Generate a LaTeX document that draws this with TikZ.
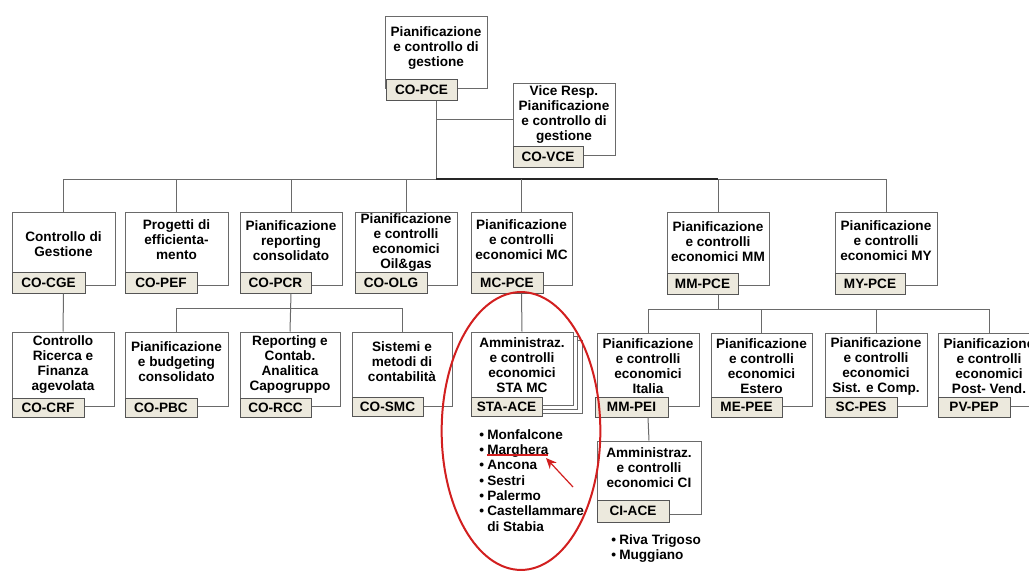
\documentclass[tikz,border=0pt]{standalone}
\usepackage{fontspec}
\setmainfont{Liberation Sans}
\usetikzlibrary{fit,arrows.meta}

\definecolor{linegray}{HTML}{6A6A6A}
\definecolor{tabfill}{HTML}{ECE9DD}
\definecolor{tabline}{HTML}{555555}
\definecolor{markred}{HTML}{D21F1F}

\tikzset{
  unitbox/.style={draw=linegray, fill=white, line width=0.75pt, inner sep=0pt},
  unittab/.style={draw=tabline, fill=tabfill, line width=0.75pt, inner sep=0pt},
  tabcode/.style={inner sep=0pt, font=\bfseries\fontsize{10.2}{11.25}\selectfont},
  unittext/.style={align=center, inner sep=0pt,
    font=\bfseries\fontsize{10.2}{11.25}\selectfont},
  listtext/.style={align=left, inner sep=0pt, anchor=north west,
    font=\bfseries\fontsize{10.2}{11.5}\selectfont},
  conn/.style={draw=linegray, line width=0.75pt},
  darkconn/.style={draw=black!85, line width=0.9pt},
  highlight/.style={draw=markred, line width=1.5pt},
}

% one organisational unit: white box, code tab and description
% #1 name, #2/#3 box corners, #4/#5 tab corners, #6 code, #7 text centre, #8 text
\newcommand\orgunit[8]{%
  \node[unitbox, fit={#2 #3}] (#1) {};
  \node[unittab, fit={#4 #5}] (#1tab) {};
  \node[tabcode] (#1code) at (#1tab.center) {#6};
  \node[unittext] (#1txt) at #7 {#8};
}
\newcommand\itm[1]{\makebox[6pt][l]{\textbullet}#1}

\begin{document}
\begin{tikzpicture}[x=0.75pt, y=-0.75pt]
\useasboundingbox (0,0) rectangle (1029,571);
\fill[white] (0,0) rectangle (1029,571);
\clip (0,0) rectangle (1029,571);

% ---- bus levels
\coordinate (busA) at (0,179);
\coordinate (busB) at (0,308);
\coordinate (busC) at (0,309);

% ---- top level
\orgunit{pce}{(385,16)}{(487,88)}{(386,79)}{(457,100)}{CO-PCE}{(436,48)}
  {Pianificazione\\e controllo di\\gestione}
\orgunit{vce}{(513,83)}{(615,155)}{(513,146)}{(583,167)}{CO-VCE}{(564,115)}
  {Vice Resp.\\Pianificazione\\e controllo di\\gestione}

% ---- first level
\orgunit{cge}{(12,212)}{(115,285)}{(12,272)}{(85,293)}{CO-CGE}{(63.5,244)}
  {Controllo di\\Gestione}
\orgunit{pef}{(125,212)}{(228,285)}{(125,272)}{(197,293)}{CO-PEF}{(176.5,240)}
  {Progetti di\\efficienta-\\mento}
\orgunit{pcr}{(240,212)}{(342,285)}{(240,272)}{(311,293)}{CO-PCR}{(291,241)}
  {Pianificazione\\reporting\\consolidato}
\orgunit{olg}{(355,212)}{(457,285)}{(355,272)}{(427,293)}{CO-OLG}{(406,243)}
  {Pianificazione\\e controlli\\economici\\Oil\&gas}
\orgunit{mc}{(471,212)}{(572,285)}{(471,272)}{(543,293)}{MC-PCE}{(521.5,240)}
  {Pianificazione\\e controlli\\economici MC}
\orgunit{mm}{(667,212)}{(769,285)}{(667,273)}{(738,294)}{MM-PCE}{(718,242)}
  {Pianificazione\\e controlli\\economici MM}
\orgunit{my}{(835,212)}{(937,285)}{(835,273)}{(905,294)}{MY-PCE}{(886,241)}
  {Pianificazione\\e controlli\\economici MY}

% ---- second level
\orgunit{crf}{(12,332)}{(114,406)}{(12,398)}{(84,417)}{CO-CRF}{(63,365)}
  {Controllo\\Ricerca e\\Finanza\\agevolata}
\orgunit{pbc}{(125,332)}{(228,406)}{(125,398)}{(197,417)}{CO-PBC}{(176.5,362)}
  {Pianificazione\\e budgeting\\consolidato}
\orgunit{rcc}{(240,332)}{(340,406)}{(240,398)}{(311,417)}{CO-RCC}{(290,365)}
  {Reporting e\\Contab.\\Analitica\\Capogruppo}
\orgunit{smc}{(352,332)}{(452,406)}{(352,397)}{(423,416)}{CO-SMC}{(402,362)}
  {Sistemi e\\metodi di\\contabilità}

% stacked frames behind the shipyard administration unit
\node[unitbox, fit={(480,340) (582,413)}] (stabackb) {};
\node[unitbox, fit={(475.5,336) (577.5,409)}] (stabacka) {};
\orgunit{sta}{(471,332)}{(573,405)}{(471,397)}{(542,416)}{STA-ACE}{(522,365)}
  {Amministraz.\\e controlli\\economici\\STA MC}

\orgunit{mmpei}{(597,333)}{(699,406)}{(595,397)}{(668,417)}{MM-PEI}{(648,366)}
  {Pianificazione\\e controlli\\economici\\Italia}
\orgunit{mepee}{(711,333)}{(812,406)}{(711,397)}{(782,417)}{ME-PEE}{(761.5,366)}
  {Pianificazione\\e controlli\\economici\\Estero}
\orgunit{scpes}{(825,333)}{(927,406)}{(825,397)}{(897,417)}{SC-PES}{(876,366)}
  {Pianificazione\\e controlli\\economici\\Sist. e Comp.}
\orgunit{pvpep}{(938,333)}{(1040,406)}{(938,397)}{(1010,417)}{PV-PEP}{(989,366)}
  {Pianificazione\\e controlli\\economici\\Post- Vend.}

% ---- third level
\orgunit{ci}{(597,441)}{(701,514)}{(597,500)}{(669,522)}{CI-ACE}{(649,468)}
  {Amministraz.\\e controlli\\economici CI}

% ---- connectors
\draw[conn] (pce.center |- pcetab.south) -- (pce.center |- busA);
\draw[conn] (pce.center |- vce.west) -- (vce.west);
\draw[conn] (cge.north) |- (pce.center |- busA);
\draw[darkconn] (pce.center |- busA) -- (mm.north |- busA);
\draw[conn] (mm.north |- busA) -| (my.north);
\foreach \n in {pef,pcr,olg,mc,mm}
  \draw[conn] (\n.north) -- (\n.north |- busA);

\draw[conn] (cge.center |- cgetab.south) -- (crf.north);

\draw[conn] (pbc.north) |- (smc.north |- busB) -- (smc.north);
\draw[conn] (pcr.center |- pcrtab.south) -- (rcc.north);

\draw[conn] (mc.center |- mctab.south) -- (sta.north);

\draw[conn] (mmpei.north) |- (pvpep.north |- busC) -- (pvpep.north);
\draw[conn] (mm.center |- mmtab.south) -- (mm.center |- busC);
\foreach \n in {mepee,scpes}
  \draw[conn] (\n.north) -- (\n.north |- busC);

\draw[conn] (mmpei.center |- mmpeitab.south) -- (ci.north);

% ---- site lists
\node[listtext] (stasites) at (479,429)
  {\itm{Monfalcone}\\\itm{Marghera}\\\itm{Ancona}\\\itm{Sestri}\\\itm{Palermo}\\
   \itm{Castellammare}\\\hspace*{6pt}di Stabia};
\node[listtext] (cisites) at (611,534)
  {\itm{Riva Trigoso}\\\itm{Muggiano}};

% ---- highlight marks
\draw[highlight] (521,431) ellipse [x radius=59.5pt, y radius=104.2pt];
\draw[highlight, line width=1.4pt] (487,455) -- (548,455);
\coordinate (arrowtail) at (573,487);
\coordinate (arrowtip) at (546,458);
\draw[draw=markred, line width=0.9pt, -{Stealth[length=8pt,width=7pt]}] (arrowtail) -- (arrowtip);
\end{tikzpicture}
\end{document}
